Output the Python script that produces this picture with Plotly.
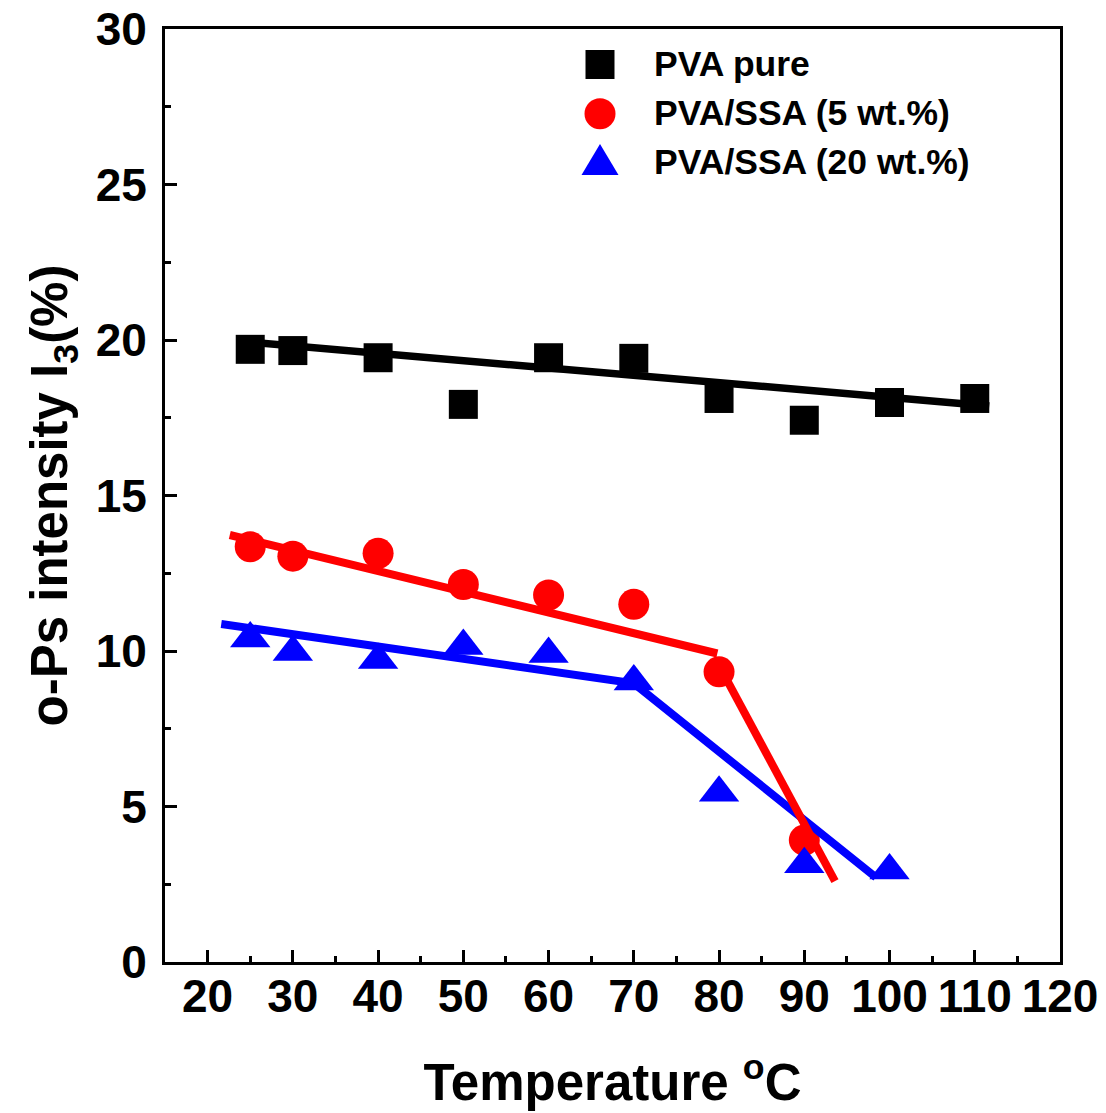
import plotly.graph_objects as go

# ---- data ----
temp_pure = [25, 30, 40, 50, 60, 70, 80, 90, 100, 110]
i3_pure = [19.70, 19.66, 19.43, 17.93, 19.43, 19.41, 18.12, 17.42, 17.99, 18.12]

temp_5 = [25, 30, 40, 50, 60, 70, 80, 90]
i3_5 = [13.35, 13.05, 13.14, 12.14, 11.80, 11.50, 9.33, 3.92]

temp_20 = [25, 30, 40, 50, 60, 70, 80, 90, 100]
i3_20 = [10.40, 9.97, 9.71, 10.16, 9.90, 9.02, 5.44, 3.14, 2.94]

# linear fit lines (end points)
fit_pure_x = [24.0, 111.7]
fit_pure_y = [19.95, 17.88]

fit_5_x = [22.6, 79.8, None, 80.0, 93.6]
fit_5_y = [13.73, 9.92, None, 9.54, 2.60]

fit_20_x = [21.6, 70.0, 98.4]
fit_20_y = [10.87, 8.96, 2.72]

names = ["PVA pure", "PVA/SSA (5 wt.%)", "PVA/SSA (20 wt.%)"]
colors = ["#000000", "#ff0000", "#0000ff"]
x_ticks = [20, 30, 40, 50, 60, 70, 80, 90, 100, 110, 120]
y_ticks = [0, 5, 10, 15, 20, 25, 30]

FONT = "Liberation Sans, Arial, sans-serif"

# figure geometry
W, H = 1106, 1113
ML, MR, MT, MB = 165, 46, 29, 151
PW, PH = W - ML - MR, H - MT - MB

fig = go.Figure()

fig.add_trace(go.Scatter(x=temp_pure, y=i3_pure, mode="markers", name=names[0],
                         marker=dict(symbol="square", size=29, color=colors[0])))
fig.add_trace(go.Scatter(x=temp_5, y=i3_5, mode="markers", name=names[1],
                         marker=dict(symbol="circle", size=31, color=colors[1])))
fig.add_trace(go.Scatter(x=temp_20, y=i3_20, mode="markers", name=names[2],
                         marker=dict(symbol="triangle-up", size=35, color=colors[2])))

fig.add_trace(go.Scatter(x=fit_20_x, y=fit_20_y, mode="lines", showlegend=False,
                         line=dict(color=colors[2], width=8)))
fig.add_trace(go.Scatter(x=fit_5_x, y=fit_5_y, mode="lines", showlegend=False,
                         connectgaps=False, line=dict(color=colors[1], width=8)))
fig.add_trace(go.Scatter(x=fit_pure_x, y=fit_pure_y, mode="lines", showlegend=False,
                         line=dict(color=colors[0], width=7.5)))

axis_common = dict(
    showline=True, linewidth=3, linecolor="black", mirror=True,
    showgrid=False, zeroline=False, automargin=False,
    ticks="inside", ticklen=12, tickwidth=3, tickcolor="black",
    tickfont=dict(family=FONT, size=46, color="black", weight="bold"),
)

fig.update_xaxes(
    range=[15, 120], tickmode="array", tickvals=x_ticks,
    ticktext=[str(v) for v in x_ticks], ticklabelstandoff=-8,
    minor=dict(ticks="inside", ticklen=6, tickwidth=3, tickcolor="black", dtick=5, tick0=15),
    title=dict(text="Temperature <sup>o</sup>C", standoff=44,
               font=dict(family=FONT, size=51, color="black", weight="bold")),
    **axis_common,
)
fig.update_yaxes(
    range=[0, 30], tickmode="array", tickvals=y_ticks,
    ticktext=[str(v) for v in y_ticks], ticklabelstandoff=6,
    minor=dict(ticks="inside", ticklen=6, tickwidth=3, tickcolor="black", dtick=2.5, tick0=0),
    title=dict(text="o-Ps intensity I<sub>3</sub>(%)", standoff=12,
               font=dict(family=FONT, size=51, color="black", weight="bold")),
    **axis_common,
)

# legend layout (pixels in the page) and enlarged legend symbols
leg_sym_x = 600
leg_rows_y = [64.5, 113.8, 159.5]


def px_to_paper_x(px):
    return (px - ML) / PW


def px_to_paper_y(py):
    return 1 - (py - MT) / PH


shapes = []
# square
shapes.append(dict(type="rect", xref="paper", yref="paper", xsizemode="pixel", ysizemode="pixel",
                   xanchor=px_to_paper_x(leg_sym_x), yanchor=px_to_paper_y(leg_rows_y[0]),
                   x0=-14.5, x1=14.5, y0=-14.5, y1=14.5,
                   fillcolor=colors[0], line=dict(width=0), layer="above"))
# circle
shapes.append(dict(type="circle", xref="paper", yref="paper", xsizemode="pixel", ysizemode="pixel",
                   xanchor=px_to_paper_x(leg_sym_x), yanchor=px_to_paper_y(leg_rows_y[1]),
                   x0=-15.5, x1=15.5, y0=-15.5, y1=15.5,
                   fillcolor=colors[1], line=dict(width=0), layer="above"))
# triangle
shapes.append(dict(type="path", xref="paper", yref="paper", xsizemode="pixel", ysizemode="pixel",
                   xanchor=px_to_paper_x(leg_sym_x), yanchor=px_to_paper_y(leg_rows_y[2]),
                   path="M -18.5 -15.5 L 18.5 -15.5 L 0 15.5 Z",
                   fillcolor=colors[2], line=dict(width=0), layer="above"))

fig.update_layout(
    width=W, height=H,
    margin=dict(l=ML, r=MR, t=MT, b=MB),
    plot_bgcolor="white", paper_bgcolor="white",
    legend=dict(x=0.4302, y=0.9962, xanchor="left", yanchor="top",
                bgcolor="rgba(0,0,0,0)", borderwidth=0,
                font=dict(family=FONT, size=35.5, color="black", weight="bold"),
                itemsizing="trace", itemwidth=94),
    shapes=shapes,
)

fig.write_html("out.html")
